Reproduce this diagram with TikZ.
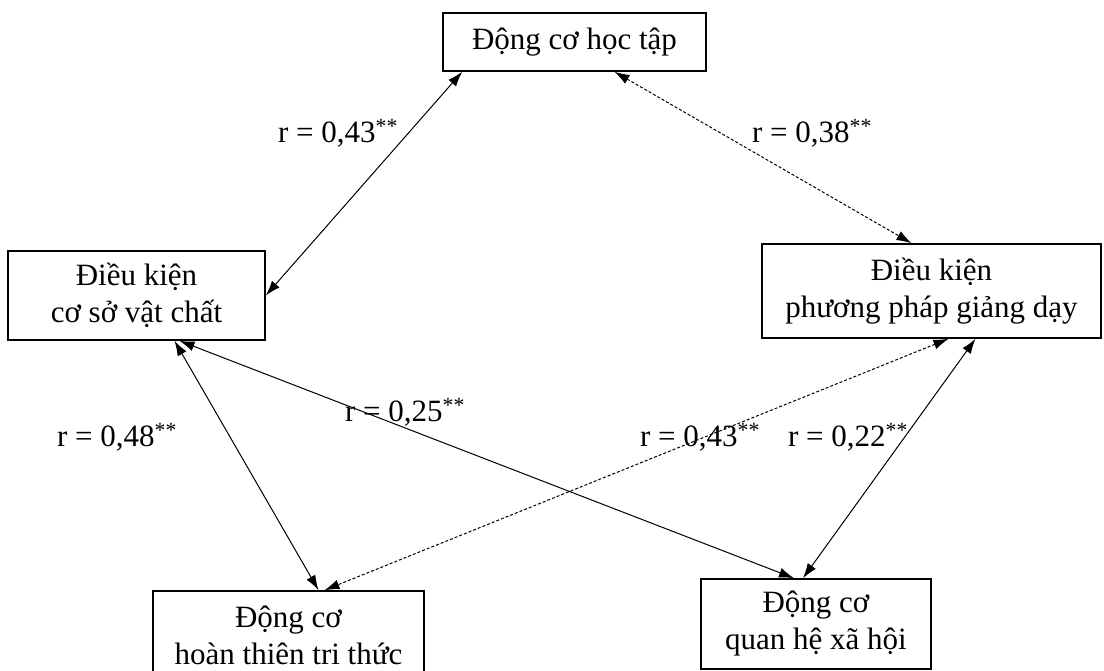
\documentclass[tikz,border=0pt]{standalone}
\usepackage{fontspec}
\setmainfont{Liberation Serif}
\usetikzlibrary{arrows.meta}

\begin{document}
\begin{tikzpicture}[x=1pt, y=-1pt, align=center,
  every node/.style={font=\fontsize{31}{37}\selectfont},
  box/.style={draw=black, line width=1.6pt, inner sep=0pt},
  link/.style={{Latex[length=15pt,width=10pt]}-{Latex[length=15pt,width=10pt]},
    line width=1pt},
  weak/.style={link, densely dashed} ]

\useasboundingbox (0,0) rectangle (1104,671);

% Boxes
\node[box, minimum width=263pt, minimum height=58pt] (hoc) at (574.5,42)
  {Động cơ học tập};
\node[box, minimum width=257pt, minimum height=89pt] (cosovc) at (136.5,295.5)
  {Điều kiện\\ cơ sở vật chất};
\node[box, minimum width=339pt, minimum height=94pt] (ppgd) at (931.5,291)
  {Điều kiện\\ phương pháp giảng dạy};
\node[box, minimum width=271pt, minimum height=88pt] (hoanthien) at (288.5,635)
  {Động cơ\\ hoàn thiên tri thức};
\node[box, minimum width=230pt, minimum height=90pt] (quanhe) at (816,624)
  {Động cơ\\ quan hệ xã hội};

% Connections
\draw[link] ([xshift=20pt]hoc.south west) -- (cosovc.east);
\draw[weak] ([xshift=40pt]hoc.south) -- ([xshift=-20pt]ppgd.north);
\draw[link] ([xshift=38pt]cosovc.south) -- ([xshift=30pt]hoanthien.north);
\draw[link] ([xshift=43pt]cosovc.south) -- ([xshift=-22pt]quanhe.north);
\draw[weak] ([xshift=17pt]ppgd.south) -- ([xshift=36pt]hoanthien.north);
\draw[link] ([xshift=44pt]ppgd.south) -- ([xshift=-13pt]quanhe.north);

% Correlation labels
\node (r1) at (338,133) {r = 0,43\textsuperscript{**}};
\node (r2) at (812,133) {r = 0,38\textsuperscript{**}};
\node (r3) at (117,437) {r = 0,48\textsuperscript{**}};
\node (r4) at (405,412) {r = 0,25\textsuperscript{**}};
\node (r5) at (700,437) {r = 0,43\textsuperscript{**}};
\node (r6) at (848,437) {r = 0,22\textsuperscript{**}};

\end{tikzpicture}
\end{document}
